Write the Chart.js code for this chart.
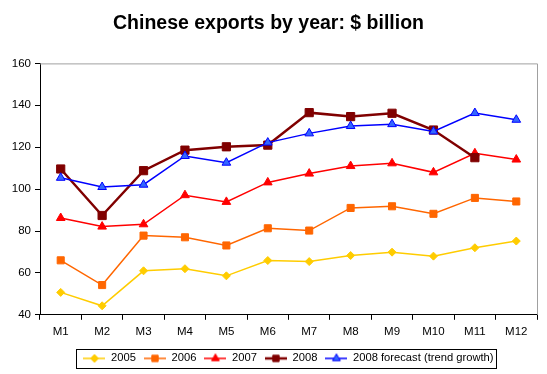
<!DOCTYPE html>
<html>
<head>
<meta charset="utf-8">
<script src="https://cdn.jsdelivr.net/npm/chart.js@4"></script>
<style>
  html, body { margin: 0; padding: 0; background: #fff; }
  #wrap { width: 547px; height: 374px; position: relative; }
</style>
</head>
<body>
<div id="wrap"><canvas id="chart"></canvas></div>
<script>
const months = ["M1", "M2", "M3", "M4", "M5", "M6", "M7", "M8", "M9", "M10", "M11", "M12"];
const exports2005 = [50.7, 44.3, 61.0, 62.0, 58.6, 65.9, 65.4, 68.3, 69.9, 68.0, 72.0, 75.2];
const exports2006 = [66.0, 54.2, 77.8, 77.0, 73.1, 81.3, 80.2, 91.0, 91.8, 88.2, 95.8, 94.1];
const exports2007 = [86.2, 82.1, 83.2, 97.1, 93.9, 103.2, 107.4, 111.0, 112.3, 108.0, 117.1, 114.1];
const exports2008 = [109.6, 87.4, 108.8, 118.6, 120.2, 121.0, 136.5, 134.6, 136.2, 128.2, 115.0, null];
const forecast2008 = [105.4, 101.0, 102.1, 115.8, 112.6, 122.2, 126.6, 130.1, 131.0, 127.5, 136.3, 133.1];
const yTicks = [40, 60, 80, 100, 120, 140, 160];

const FONT = "Arial, 'Liberation Sans', sans-serif";

function series(label, data, line, fill, style, radius, width, order) {
  return {
    label: label,
    data: data,
    borderColor: line,
    backgroundColor: fill,
    pointBackgroundColor: fill,
    pointBorderColor: line,
    pointStyle: style,
    pointRadius: radius,
    pointHoverRadius: radius,
    pointBorderWidth: 1,
    borderWidth: width,
    tension: 0,
    order: order
  };
}

// small canvas with line + marker for the legend swatch
function swatch(ds) {
  const c = document.createElement("canvas");
  c.width = 22; c.height = 12;
  const g = c.getContext("2d");
  g.strokeStyle = ds.borderColor;
  g.lineWidth = Math.min(ds.borderWidth, 2.5);
  g.beginPath(); g.moveTo(0, 6); g.lineTo(22, 6); g.stroke();
  g.fillStyle = ds.pointBackgroundColor;
  g.strokeStyle = ds.pointBorderColor;
  g.lineWidth = 1;
  Chart.helpers.drawPoint(g, {pointStyle: ds.pointStyle, radius: Math.min(ds.pointRadius, 4.5), rotation: 0, borderWidth: 1}, 11, 6);
  return c;
}

const frame = {
  id: "frame",
  afterLayout(chart) {
    // Excel centres the legend a bit right of the canvas centre
    chart.legend.left += 20;
    chart.legend.right += 20;
  },
  afterDraw(chart) {
    const a = chart.chartArea, ctx = chart.ctx;
    ctx.save();
    ctx.strokeStyle = "#a0a0a0";
    ctx.lineWidth = 1;
    ctx.beginPath();
    ctx.moveTo(a.left, a.top + 0.5);
    ctx.lineTo(a.right + 0.5, a.top + 0.5);
    ctx.lineTo(a.right + 0.5, a.bottom);
    ctx.stroke();
    const boxes = chart.legend.legendHitBoxes;
    if (boxes.length) {
      const l = boxes[0].left - 7;
      const last = boxes[boxes.length - 1];
      const r = last.left + last.width + 3;
      const t = boxes[0].top - 4;
      const b = boxes[0].top + boxes[0].height + 4;
      ctx.strokeStyle = "#000";
      ctx.strokeRect(Math.round(l) + 0.5, Math.round(t) + 0.5, Math.round(r - l), Math.round(b - t));
    }
    ctx.restore();
  }
};

new Chart(document.getElementById("chart"), {
  type: "line",
  data: {
    labels: months,
    datasets: [
      series("2005", exports2005, "#ffcc00", "#ffcc00", "rectRot", 4, 1.5, 4),
      series("2006", exports2006, "#ff6600", "#ff6600", "rect", 5, 1.5, 3),
      series("2007", exports2007, "#ff0000", "#ff0000", "triangle", 5, 1.5, 2),
      series("2008", exports2008, "#800000", "#800000", "rect", 5.8, 2.5, 1),
      series("2008 forecast (trend growth)", forecast2008, "#0000ff", "#3366ff", "triangle", 5, 1.5, 0)
    ]
  },
  options: {
    responsive: true,
    maintainAspectRatio: false,
    animation: false,
    layout: { padding: { left: 0, right: 10, top: 0, bottom: 0 } },
    plugins: {
      title: {
        display: true,
        text: "Chinese exports by year: $ billion",
        color: "#000",
        font: { family: FONT, size: 19.5, weight: "bold" },
        padding: { top: 12, bottom: 28 }
      },
      legend: {
        position: "bottom",
        labels: {
          color: "#000",
          font: { family: FONT, size: 11.2 },
          usePointStyle: true,
          pointStyleWidth: 22,
          padding: 8,
          generateLabels(chart) {
            return chart.data.datasets.map((ds, i) => ({
              text: ds.label,
              pointStyle: swatch(ds),
              fillStyle: ds.backgroundColor,
              strokeStyle: ds.borderColor,
              lineWidth: 0,
              hidden: false,
              datasetIndex: i
            }));
          }
        }
      },
      tooltip: { enabled: false }
    },
    scales: {
      x: {
        offset: true,
        grid: { display: true, drawOnChartArea: false, offset: true, tickLength: 5, color: "#000" },
        border: { color: "#000", width: 1 },
        ticks: { color: "#000", font: { family: FONT, size: 11.5 }, padding: 5, maxRotation: 0 },
        afterFit(s) { s.height = 30; }
      },
      y: {
        min: 40,
        max: 160,
        afterBuildTicks(s) { s.ticks = yTicks.map(v => ({ value: v })); },
        grid: { display: true, drawOnChartArea: false, tickLength: 5, color: "#000" },
        border: { color: "#000", width: 1 },
        ticks: { color: "#000", font: { family: FONT, size: 11.5 }, padding: 4 },
        afterFit(s) { s.width = 40; }
      }
    }
  },
  plugins: [frame]
});
</script>
</body>
</html>
